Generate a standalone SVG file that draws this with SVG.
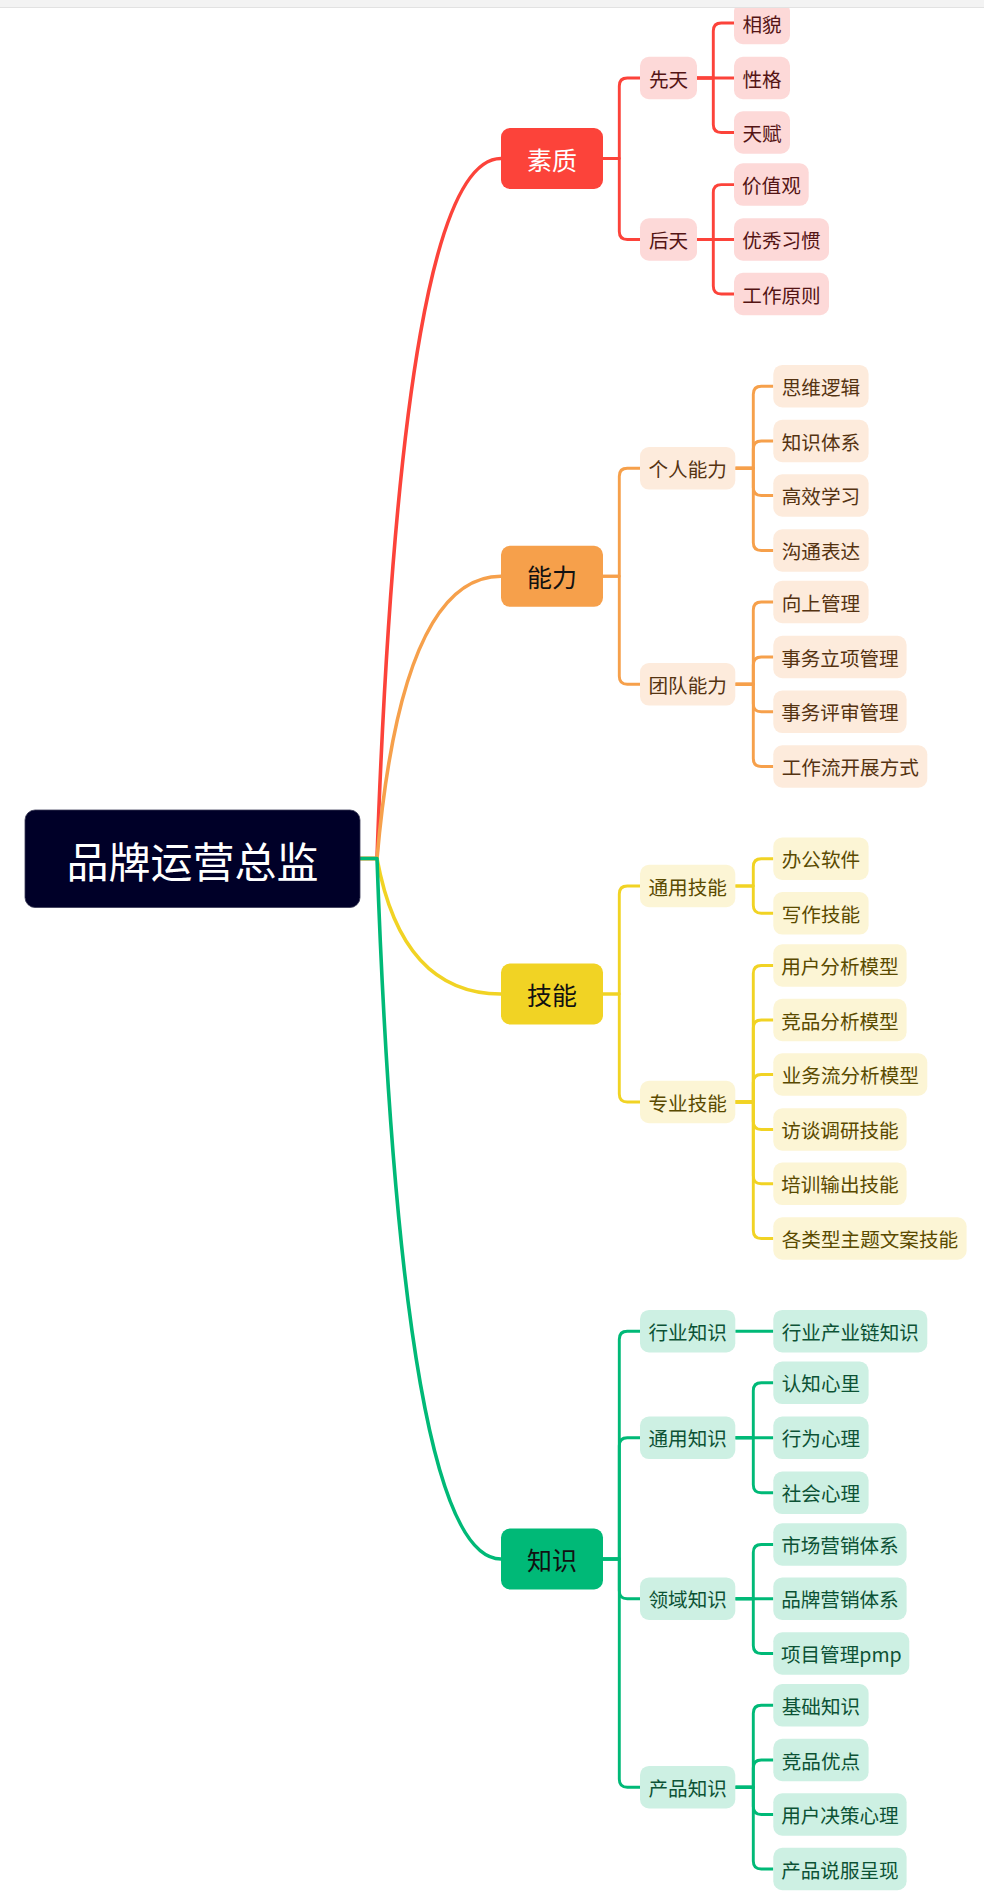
<svg xmlns="http://www.w3.org/2000/svg" width="984" height="1903" viewBox="0 0 984 1903">
<style>
text{font-family:"Noto Sans CJK SC","Noto Sans",sans-serif;text-anchor:middle;dominant-baseline:central}
.lf{font-size:19.6px}
.br{font-size:25px}
.c{fill:none;stroke-width:3.6;stroke-linecap:round;stroke-linejoin:round}
.cs{fill:none;stroke-width:2.9;stroke-linejoin:round}
.R{stroke:#fc433a}.O{stroke:#f6a04b}.Y{stroke:#f1d324}.G{stroke:#00b977}
.rb{fill:#fdd9d8}.ob{fill:#fdebdc}.yb{fill:#fcf5d5}.gb{fill:#cdf0e3}
.rt{fill:#541414}.ot{fill:#553311}.yt{fill:#5a4a00}.gt{fill:#0c5235}
</style>
<rect width="984" height="1903" fill="#ffffff"/>
<g id="connectors">
<path class="c R" d="M360 858.5 H377 Q401.8 158.5 501 158.5"/>
<path class="c O" d="M360 858.5 H377 Q401.8 576.3 501 576.3"/>
<path class="c Y" d="M360 858.5 H377 Q401.8 994 501 994"/>
<path class="c G" d="M360 858.5 H377 Q401.8 1559 501 1559"/>
<g class="cs R">
<path d="M603 158.5 H619.3 V86 Q619.3 78 627.3 78 H640"/>
<path d="M603 158.5 H619.3 V231.5 Q619.3 239.5 627.3 239.5 H640"/>
<path d="M697 78 H713.3 V31 Q713.3 23 721.3 23 H734"/>
<path d="M697 78 H734"/>
<path d="M697 78 H713.3 V124.5 Q713.3 132.5 721.3 132.5 H734"/>
<path d="M697 239.5 H713.3 V192.6 Q713.3 184.6 721.3 184.6 H734"/>
<path d="M697 239.5 H734"/>
<path d="M697 239.5 H713.3 V286 Q713.3 294 721.3 294 H734"/>
</g>
<g class="cs O">
<path d="M603 576.3 H619.3 V476.3 Q619.3 468.3 627.3 468.3 H640"/>
<path d="M603 576.3 H619.3 V676.3 Q619.3 684.3 627.3 684.3 H640"/>
<path d="M735.3 468.3 H753.3 V394.2 Q753.3 386.2 761.3 386.2 H773.3"/>
<path d="M735.3 468.3 H753.3 V449 Q753.3 441 761.3 441 H773.3"/>
<path d="M735.3 468.3 H753.3 V487.5 Q753.3 495.5 761.3 495.5 H773.3"/>
<path d="M735.3 468.3 H753.3 V542.5 Q753.3 550.5 761.3 550.5 H773.3"/>
<path d="M735.3 684.3 H753.3 V610 Q753.3 602 761.3 602 H773.3"/>
<path d="M735.3 684.3 H753.3 V665 Q753.3 657 761.3 657 H773.3"/>
<path d="M735.3 684.3 H753.3 V703.8 Q753.3 711.8 761.3 711.8 H773.3"/>
<path d="M735.3 684.3 H753.3 V758.5 Q753.3 766.5 761.3 766.5 H773.3"/>
</g>
<g class="cs Y">
<path d="M603 994 H619.3 V894 Q619.3 886 627.3 886 H640"/>
<path d="M603 994 H619.3 V1094 Q619.3 1102 627.3 1102 H640"/>
<path d="M735.3 886 H753.3 V866.7 Q753.3 858.7 761.3 858.7 H773.3"/>
<path d="M735.3 886 H753.3 V905.3 Q753.3 913.3 761.3 913.3 H773.3"/>
<path d="M735.3 1102 H753.3 V973.5 Q753.3 965.5 761.3 965.5 H773.3"/>
<path d="M735.3 1102 H753.3 V1028 Q753.3 1020 761.3 1020 H773.3"/>
<path d="M735.3 1102 H753.3 V1082.5 Q753.3 1074.5 761.3 1074.5 H773.3"/>
<path d="M735.3 1102 H753.3 V1121.5 Q753.3 1129.5 761.3 1129.5 H773.3"/>
<path d="M735.3 1102 H753.3 V1175.8 Q753.3 1183.8 761.3 1183.8 H773.3"/>
<path d="M735.3 1102 H753.3 V1230.5 Q753.3 1238.5 761.3 1238.5 H773.3"/>
</g>
<g class="cs G">
<path d="M603 1559 H619.3 V1339.2 Q619.3 1331.2 627.3 1331.2 H640"/>
<path d="M603 1559 H619.3 V1445.8 Q619.3 1437.8 627.3 1437.8 H640"/>
<path d="M603 1559 H619.3 V1590.7 Q619.3 1598.7 627.3 1598.7 H640"/>
<path d="M603 1559 H619.3 V1779.2 Q619.3 1787.2 627.3 1787.2 H640"/>
<path d="M735.3 1331.2 H773.3"/>
<path d="M735.3 1437.8 H753.3 V1390.8 Q753.3 1382.8 761.3 1382.8 H773.3"/>
<path d="M735.3 1437.8 H773.3"/>
<path d="M735.3 1437.8 H753.3 V1484.8 Q753.3 1492.8 761.3 1492.8 H773.3"/>
<path d="M735.3 1598.7 H753.3 V1552.5 Q753.3 1544.5 761.3 1544.5 H773.3"/>
<path d="M735.3 1598.7 H773.3"/>
<path d="M735.3 1598.7 H753.3 V1645.5 Q753.3 1653.5 761.3 1653.5 H773.3"/>
<path d="M735.3 1787.2 H753.3 V1713.3 Q753.3 1705.3 761.3 1705.3 H773.3"/>
<path d="M735.3 1787.2 H753.3 V1768 Q753.3 1760 761.3 1760 H773.3"/>
<path d="M735.3 1787.2 H753.3 V1806.5 Q753.3 1814.5 761.3 1814.5 H773.3"/>
<path d="M735.3 1787.2 H753.3 V1861 Q753.3 1869 761.3 1869 H773.3"/>
</g>
</g>
<g id="root"><rect x="25" y="810" width="335" height="97.5" rx="10" fill="#000028" stroke="#3a3a55" stroke-width="0.8"/><text x="192.5" y="859" font-size="42" fill="#ffffff">品牌运营总监</text></g>
<g id="b-suzhi"><rect x="501" y="128" width="102" height="61" rx="9" fill="#fc433a"/><text class="br" x="552" y="158.5" fill="#ffffff">素质</text></g>
<g id="b-nengli"><rect x="501" y="545.8" width="102" height="61" rx="9" fill="#f6a04b"/><text class="br" x="552" y="576.3" fill="#111111">能力</text></g>
<g id="b-jineng"><rect x="501" y="963.5" width="102" height="61" rx="9" fill="#f1d324"/><text class="br" x="552" y="994" fill="#111111">技能</text></g>
<g id="b-zhishi"><rect x="501" y="1528.5" width="102" height="61" rx="9" fill="#00b977"/><text class="br" x="552" y="1559" fill="#111111">知识</text></g>

<g id="n-xiantian"><rect class="rb" x="640" y="56.75" width="57" height="42.5" rx="9"/><text class="lf rt" x="668.5" y="78">先天</text></g>
<g id="n-houtian"><rect class="rb" x="640" y="218.25" width="57" height="42.5" rx="9"/><text class="lf rt" x="668.5" y="239.5">后天</text></g>
<g id="n-xiangmao"><rect class="rb" x="734" y="1.75" width="56" height="42.5" rx="9"/><text class="lf rt" x="762" y="23">相貌</text></g>
<g id="n-xingge"><rect class="rb" x="734" y="56.75" width="56" height="42.5" rx="9"/><text class="lf rt" x="762" y="78">性格</text></g>
<g id="n-tianfu"><rect class="rb" x="734" y="111.25" width="56" height="42.5" rx="9"/><text class="lf rt" x="762" y="132.5">天赋</text></g>
<g id="n-jiazhiguan"><rect class="rb" x="734" y="163.35" width="74.7" height="42.5" rx="9"/><text class="lf rt" x="771.35" y="184.6">价值观</text></g>
<g id="n-youxiu"><rect class="rb" x="734" y="218.25" width="95" height="42.5" rx="9"/><text class="lf rt" x="781.5" y="239.5">优秀习惯</text></g>
<g id="n-gongzuo"><rect class="rb" x="734" y="272.75" width="95" height="42.5" rx="9"/><text class="lf rt" x="781.5" y="294">工作原则</text></g>

<g id="n-geren"><rect class="ob" x="640" y="447.05" width="95.3" height="42.5" rx="9"/><text class="lf ot" x="687.65" y="468.3">个人能力</text></g>
<g id="n-tuandui"><rect class="ob" x="640" y="663.05" width="95.3" height="42.5" rx="9"/><text class="lf ot" x="687.65" y="684.3">团队能力</text></g>
<g id="n-siwei"><rect class="ob" x="773.3" y="364.95" width="95.3" height="42.5" rx="9"/><text class="lf ot" x="820.95" y="386.2">思维逻辑</text></g>
<g id="n-zhishitixi"><rect class="ob" x="773.3" y="419.75" width="95.3" height="42.5" rx="9"/><text class="lf ot" x="820.95" y="441">知识体系</text></g>
<g id="n-gaoxiao"><rect class="ob" x="773.3" y="474.25" width="95.3" height="42.5" rx="9"/><text class="lf ot" x="820.95" y="495.5">高效学习</text></g>
<g id="n-goutong"><rect class="ob" x="773.3" y="529.25" width="95.3" height="42.5" rx="9"/><text class="lf ot" x="820.95" y="550.5">沟通表达</text></g>
<g id="n-xiangshang"><rect class="ob" x="773.3" y="580.75" width="95.3" height="42.5" rx="9"/><text class="lf ot" x="820.95" y="602">向上管理</text></g>
<g id="n-lixiang"><rect class="ob" x="773.3" y="635.75" width="133.3" height="42.5" rx="9"/><text class="lf ot" x="839.95" y="657">事务立项管理</text></g>
<g id="n-pingshen"><rect class="ob" x="773.3" y="690.55" width="133.3" height="42.5" rx="9"/><text class="lf ot" x="839.95" y="711.8">事务评审管理</text></g>
<g id="n-gongzuoliu"><rect class="ob" x="773.3" y="745.25" width="154" height="42.5" rx="9"/><text class="lf ot" x="850.3" y="766.5">工作流开展方式</text></g>

<g id="n-tongyongjn"><rect class="yb" x="640" y="864.75" width="95.3" height="42.5" rx="9"/><text class="lf yt" x="687.65" y="886">通用技能</text></g>
<g id="n-zhuanye"><rect class="yb" x="640" y="1080.75" width="95.3" height="42.5" rx="9"/><text class="lf yt" x="687.65" y="1102">专业技能</text></g>
<g id="n-bangong"><rect class="yb" x="773.3" y="837.45" width="95.3" height="42.5" rx="9"/><text class="lf yt" x="820.95" y="858.7">办公软件</text></g>
<g id="n-xiezuo"><rect class="yb" x="773.3" y="892.05" width="95.3" height="42.5" rx="9"/><text class="lf yt" x="820.95" y="913.3">写作技能</text></g>
<g id="n-yonghu"><rect class="yb" x="773.3" y="944.25" width="133.3" height="42.5" rx="9"/><text class="lf yt" x="839.95" y="965.5">用户分析模型</text></g>
<g id="n-jingpin"><rect class="yb" x="773.3" y="998.75" width="133.3" height="42.5" rx="9"/><text class="lf yt" x="839.95" y="1020">竞品分析模型</text></g>
<g id="n-yewuliu"><rect class="yb" x="773.3" y="1053.25" width="154" height="42.5" rx="9"/><text class="lf yt" x="850.3" y="1074.5">业务流分析模型</text></g>
<g id="n-fangtan"><rect class="yb" x="773.3" y="1108.25" width="133.3" height="42.5" rx="9"/><text class="lf yt" x="839.95" y="1129.5">访谈调研技能</text></g>
<g id="n-peixun"><rect class="yb" x="773.3" y="1162.55" width="133.3" height="42.5" rx="9"/><text class="lf yt" x="839.95" y="1183.8">培训输出技能</text></g>
<g id="n-gelei"><rect class="yb" x="773.3" y="1217.25" width="193.3" height="42.5" rx="9"/><text class="lf yt" x="869.95" y="1238.5">各类型主题文案技能</text></g>

<g id="n-hangye"><rect class="gb" x="640" y="1309.95" width="95.3" height="42.5" rx="9"/><text class="lf gt" x="687.65" y="1331.2">行业知识</text></g>
<g id="n-tongyongzs"><rect class="gb" x="640" y="1416.55" width="95.3" height="42.5" rx="9"/><text class="lf gt" x="687.65" y="1437.8">通用知识</text></g>
<g id="n-lingyu"><rect class="gb" x="640" y="1577.45" width="95.3" height="42.5" rx="9"/><text class="lf gt" x="687.65" y="1598.7">领域知识</text></g>
<g id="n-chanpin"><rect class="gb" x="640" y="1765.95" width="95.3" height="42.5" rx="9"/><text class="lf gt" x="687.65" y="1787.2">产品知识</text></g>
<g id="n-chanyelian"><rect class="gb" x="773.3" y="1309.95" width="154" height="42.5" rx="9"/><text class="lf gt" x="850.3" y="1331.2">行业产业链知识</text></g>
<g id="n-renzhi"><rect class="gb" x="773.3" y="1361.55" width="95.3" height="42.5" rx="9"/><text class="lf gt" x="820.95" y="1382.8">认知心里</text></g>
<g id="n-xingwei"><rect class="gb" x="773.3" y="1416.55" width="95.3" height="42.5" rx="9"/><text class="lf gt" x="820.95" y="1437.8">行为心理</text></g>
<g id="n-shehui"><rect class="gb" x="773.3" y="1471.55" width="95.3" height="42.5" rx="9"/><text class="lf gt" x="820.95" y="1492.8">社会心理</text></g>
<g id="n-shichang"><rect class="gb" x="773.3" y="1523.25" width="133.3" height="42.5" rx="9"/><text class="lf gt" x="839.95" y="1544.5">市场营销体系</text></g>
<g id="n-pinpai"><rect class="gb" x="773.3" y="1577.45" width="133.3" height="42.5" rx="9"/><text class="lf gt" x="839.95" y="1598.7">品牌营销体系</text></g>
<g id="n-xiangmu"><rect class="gb" x="773.3" y="1632.25" width="136" height="42.5" rx="9"/><text class="lf gt" x="841.3" y="1653.5">项目管理pmp</text></g>
<g id="n-jichu"><rect class="gb" x="773.3" y="1684.05" width="95.3" height="42.5" rx="9"/><text class="lf gt" x="820.95" y="1705.3">基础知识</text></g>
<g id="n-youdian"><rect class="gb" x="773.3" y="1738.75" width="95.3" height="42.5" rx="9"/><text class="lf gt" x="820.95" y="1760">竞品优点</text></g>
<g id="n-juece"><rect class="gb" x="773.3" y="1793.25" width="133.3" height="42.5" rx="9"/><text class="lf gt" x="839.95" y="1814.5">用户决策心理</text></g>
<g id="n-shuofu"><rect class="gb" x="773.3" y="1847.75" width="133.3" height="42.5" rx="9"/><text class="lf gt" x="839.95" y="1869">产品说服呈现</text></g>

<g id="topbar"><rect x="0" y="0" width="984" height="7" fill="#f3f3f3"/><rect x="0" y="7" width="984" height="1" fill="#e2e2e2"/></g>
</svg>
